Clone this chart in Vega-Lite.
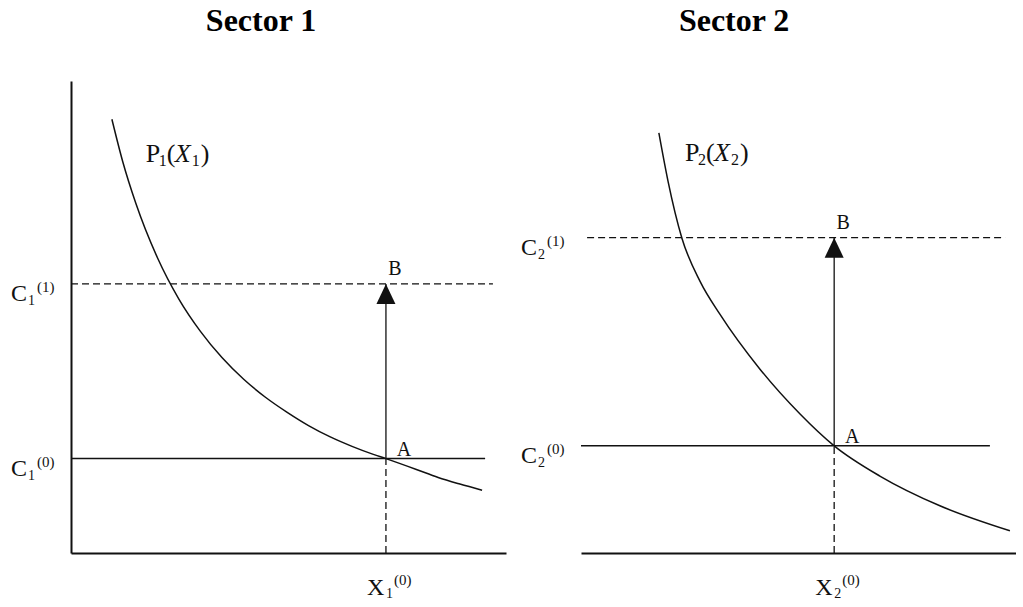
{
  "$schema": "https://vega.github.io/schema/vega-lite/v6.json",
  "padding": {"left": 11, "top": 5, "right": 0, "bottom": 0},
  "background": "white",
  "config": {
    "view": {"stroke": null},
    "axis": {"domainColor": "#111", "domainWidth": 2, "ticks": false, "labels": false, "grid": false, "offset": 0},
    "text": {"font": "Liberation Serif", "color": "#111"}
  },
  "data": {
    "values": [
      {"sector": "Sector 1", "part": "level", "n": "1", "origin": 0, "x0": 7.24, "c0": 2.0, "c1": 5.7, "c0End": 9.52, "c1Start": 0, "c1End": 9.7, "labelX": 1.72, "labelY": 8.45, "titleX": 3.1, "titleY": 11.27},
      {"sector": "Sector 2", "part": "level", "n": "2", "origin": 0, "x0": 5.82, "c0": 2.27, "c1": 6.68, "c0End": 9.4, "c1Start": 0.14, "c1End": 9.75, "labelX": 2.39, "labelY": 8.47, "titleX": 2.25, "titleY": 11.27},

      {"sector": "Sector 1", "part": "curve", "x": 0.94, "y": 9.19},
      {"sector": "Sector 1", "part": "curve", "x": 1.19, "y": 8.29},
      {"sector": "Sector 1", "part": "curve", "x": 1.49, "y": 7.41},
      {"sector": "Sector 1", "part": "curve", "x": 1.99, "y": 6.25},
      {"sector": "Sector 1", "part": "curve", "x": 2.48, "y": 5.38},
      {"sector": "Sector 1", "part": "curve", "x": 2.98, "y": 4.69},
      {"sector": "Sector 1", "part": "curve", "x": 3.47, "y": 4.14},
      {"sector": "Sector 1", "part": "curve", "x": 3.97, "y": 3.68},
      {"sector": "Sector 1", "part": "curve", "x": 4.47, "y": 3.3},
      {"sector": "Sector 1", "part": "curve", "x": 4.97, "y": 2.98},
      {"sector": "Sector 1", "part": "curve", "x": 5.46, "y": 2.7},
      {"sector": "Sector 1", "part": "curve", "x": 5.96, "y": 2.46},
      {"sector": "Sector 1", "part": "curve", "x": 6.46, "y": 2.26},
      {"sector": "Sector 1", "part": "curve", "x": 6.95, "y": 2.09},
      {"sector": "Sector 1", "part": "curve", "x": 7.24, "y": 2.0},
      {"sector": "Sector 1", "part": "curve", "x": 7.94, "y": 1.77},
      {"sector": "Sector 1", "part": "curve", "x": 8.44, "y": 1.6},
      {"sector": "Sector 1", "part": "curve", "x": 8.94, "y": 1.46},
      {"sector": "Sector 1", "part": "curve", "x": 9.45, "y": 1.33},

      {"sector": "Sector 2", "part": "curve", "x": 1.79, "y": 8.9},
      {"sector": "Sector 2", "part": "curve", "x": 2.0, "y": 7.88},
      {"sector": "Sector 2", "part": "curve", "x": 2.32, "y": 6.67},
      {"sector": "Sector 2", "part": "curve", "x": 2.74, "y": 5.75},
      {"sector": "Sector 2", "part": "curve", "x": 3.2, "y": 5.05},
      {"sector": "Sector 2", "part": "curve", "x": 4.11, "y": 3.9},
      {"sector": "Sector 2", "part": "curve", "x": 5.03, "y": 2.95},
      {"sector": "Sector 2", "part": "curve", "x": 5.82, "y": 2.27},
      {"sector": "Sector 2", "part": "curve", "x": 6.87, "y": 1.63},
      {"sector": "Sector 2", "part": "curve", "x": 8.25, "y": 1.0},
      {"sector": "Sector 2", "part": "curve", "x": 9.86, "y": 0.47}
    ]
  },
  "facet": {"column": {"field": "sector", "type": "nominal", "header": null}},
  "spacing": 75,
  "bounds": "flush",
  "spec": {
    "width": 435,
    "height": 472,
    "layer": [
      {
        "transform": [{"filter": "datum.part === 'curve'"}],
        "mark": {"type": "line", "interpolate": "monotone", "color": "#111", "strokeWidth": 1.5},
        "encoding": {
          "x": {"field": "x", "type": "quantitative", "scale": {"domain": [0, 10]}, "title": null},
          "y": {"field": "y", "type": "quantitative", "scale": {"domain": [0, 10]}, "title": null},
          "order": {"field": "x", "type": "quantitative"}
        }
      },
      {
        "transform": [{"filter": "datum.part === 'level'"}],
        "mark": {"type": "rule", "color": "#111", "strokeWidth": 1.5},
        "encoding": {
          "x": {"field": "origin", "type": "quantitative", "title": null},
          "x2": {"field": "c0End"},
          "y": {"field": "c0", "type": "quantitative", "title": null}
        }
      },
      {
        "transform": [{"filter": "datum.part === 'level'"}],
        "mark": {"type": "rule", "color": "#111", "strokeWidth": 1.3, "strokeDash": [7, 4]},
        "encoding": {
          "x": {"field": "c1Start", "type": "quantitative", "title": null},
          "x2": {"field": "c1End"},
          "y": {"field": "c1", "type": "quantitative", "title": null}
        }
      },
      {
        "transform": [{"filter": "datum.part === 'level'"}],
        "mark": {"type": "rule", "color": "#111", "strokeWidth": 1.3, "strokeDash": [7, 4]},
        "encoding": {
          "x": {"field": "x0", "type": "quantitative", "title": null},
          "y": {"field": "origin", "type": "quantitative", "title": null},
          "y2": {"field": "c0"}
        }
      },
      {
        "transform": [{"filter": "datum.part === 'level'"}],
        "mark": {"type": "rule", "color": "#111", "strokeWidth": 1.3},
        "encoding": {
          "x": {"field": "x0", "type": "quantitative", "title": null},
          "y": {"field": "c0", "type": "quantitative", "title": null},
          "y2": {"field": "c1"}
        }
      },
      {
        "transform": [{"filter": "datum.part === 'level'"}],
        "mark": {"type": "point", "shape": "M0,0L-0.95,2L0.95,2Z", "size": 400, "filled": true, "color": "#111", "opacity": 1},
        "encoding": {
          "x": {"field": "x0", "type": "quantitative", "title": null},
          "y": {"field": "c1", "type": "quantitative", "title": null}
        }
      },
      {
        "transform": [{"filter": "datum.part === 'level'"}],
        "mark": {"type": "text", "text": "A", "fontSize": 20, "align": "center", "dx": 18, "dy": -9},
        "encoding": {
          "x": {"field": "x0", "type": "quantitative", "title": null},
          "y": {"field": "c0", "type": "quantitative", "title": null}
        }
      },
      {
        "transform": [{"filter": "datum.part === 'level'"}],
        "mark": {"type": "text", "text": "B", "fontSize": 20, "align": "center", "dx": 9, "dy": -15},
        "encoding": {
          "x": {"field": "x0", "type": "quantitative", "title": null},
          "y": {"field": "c1", "type": "quantitative", "title": null}
        }
      },
      {
        "transform": [{"filter": "datum.part === 'level'"}],
        "mark": {"type": "text", "text": "C", "fontSize": 24, "align": "left", "dx": -60, "dy": 10},
        "encoding": {"x": {"field": "origin", "type": "quantitative", "title": null}, "y": {"field": "c0", "type": "quantitative", "title": null}}
      },
      {
        "transform": [{"filter": "datum.part === 'level'"}],
        "mark": {"type": "text", "fontSize": 14, "align": "left", "dx": -43, "dy": 17},
        "encoding": {"x": {"field": "origin", "type": "quantitative", "title": null}, "y": {"field": "c0", "type": "quantitative", "title": null}, "text": {"field": "n", "type": "nominal"}}
      },
      {
        "transform": [{"filter": "datum.part === 'level'"}],
        "mark": {"type": "text", "text": "(0)", "fontSize": 15, "align": "left", "dx": -34, "dy": 3},
        "encoding": {"x": {"field": "origin", "type": "quantitative", "title": null}, "y": {"field": "c0", "type": "quantitative", "title": null}}
      },
      {
        "transform": [{"filter": "datum.part === 'level'"}],
        "mark": {"type": "text", "text": "C", "fontSize": 24, "align": "left", "dx": -60, "dy": 10},
        "encoding": {"x": {"field": "origin", "type": "quantitative", "title": null}, "y": {"field": "c1", "type": "quantitative", "title": null}}
      },
      {
        "transform": [{"filter": "datum.part === 'level'"}],
        "mark": {"type": "text", "fontSize": 14, "align": "left", "dx": -43, "dy": 17},
        "encoding": {"x": {"field": "origin", "type": "quantitative", "title": null}, "y": {"field": "c1", "type": "quantitative", "title": null}, "text": {"field": "n", "type": "nominal"}}
      },
      {
        "transform": [{"filter": "datum.part === 'level'"}],
        "mark": {"type": "text", "text": "(1)", "fontSize": 15, "align": "left", "dx": -34, "dy": 3},
        "encoding": {"x": {"field": "origin", "type": "quantitative", "title": null}, "y": {"field": "c1", "type": "quantitative", "title": null}}
      },
      {
        "transform": [{"filter": "datum.part === 'level'"}],
        "mark": {"type": "text", "text": "X", "fontSize": 24, "align": "left", "dx": -19, "dy": 35},
        "encoding": {"x": {"field": "x0", "type": "quantitative", "title": null}, "y": {"field": "origin", "type": "quantitative", "title": null}}
      },
      {
        "transform": [{"filter": "datum.part === 'level'"}],
        "mark": {"type": "text", "fontSize": 14, "align": "left", "dx": 0, "dy": 41},
        "encoding": {"x": {"field": "x0", "type": "quantitative", "title": null}, "y": {"field": "origin", "type": "quantitative", "title": null}, "text": {"field": "n", "type": "nominal"}}
      },
      {
        "transform": [{"filter": "datum.part === 'level'"}],
        "mark": {"type": "text", "text": "(0)", "fontSize": 15, "align": "left", "dx": 8, "dy": 27},
        "encoding": {"x": {"field": "x0", "type": "quantitative", "title": null}, "y": {"field": "origin", "type": "quantitative", "title": null}}
      },
      {
        "transform": [{"filter": "datum.part === 'level'"}],
        "mark": {"type": "text", "text": "P", "fontSize": 26, "align": "left"},
        "encoding": {"x": {"field": "labelX", "type": "quantitative", "title": null}, "y": {"field": "labelY", "type": "quantitative", "title": null}}
      },
      {
        "transform": [{"filter": "datum.part === 'level'"}],
        "mark": {"type": "text", "fontSize": 16, "align": "left", "dx": 13, "dy": 7},
        "encoding": {"x": {"field": "labelX", "type": "quantitative", "title": null}, "y": {"field": "labelY", "type": "quantitative", "title": null}, "text": {"field": "n", "type": "nominal"}}
      },
      {
        "transform": [{"filter": "datum.part === 'level'"}],
        "mark": {"type": "text", "text": "(", "fontSize": 26, "align": "left", "dx": 21},
        "encoding": {"x": {"field": "labelX", "type": "quantitative", "title": null}, "y": {"field": "labelY", "type": "quantitative", "title": null}}
      },
      {
        "transform": [{"filter": "datum.part === 'level'"}],
        "mark": {"type": "text", "text": "X", "fontSize": 26, "fontStyle": "italic", "align": "left", "dx": 29},
        "encoding": {"x": {"field": "labelX", "type": "quantitative", "title": null}, "y": {"field": "labelY", "type": "quantitative", "title": null}}
      },
      {
        "transform": [{"filter": "datum.part === 'level'"}],
        "mark": {"type": "text", "fontSize": 16, "align": "left", "dx": 46, "dy": 7},
        "encoding": {"x": {"field": "labelX", "type": "quantitative", "title": null}, "y": {"field": "labelY", "type": "quantitative", "title": null}, "text": {"field": "n", "type": "nominal"}}
      },
      {
        "transform": [{"filter": "datum.part === 'level'"}],
        "mark": {"type": "text", "text": ")", "fontSize": 26, "align": "left", "dx": 55},
        "encoding": {"x": {"field": "labelX", "type": "quantitative", "title": null}, "y": {"field": "labelY", "type": "quantitative", "title": null}}
      },
      {
        "transform": [{"filter": "datum.part === 'level'"}],
        "mark": {"type": "text", "fontSize": 32, "fontWeight": "bold", "align": "left", "color": "#000"},
        "encoding": {"x": {"field": "titleX", "type": "quantitative", "title": null}, "y": {"field": "titleY", "type": "quantitative", "title": null}, "text": {"field": "sector", "type": "nominal"}}
      }
    ]
  }
}
